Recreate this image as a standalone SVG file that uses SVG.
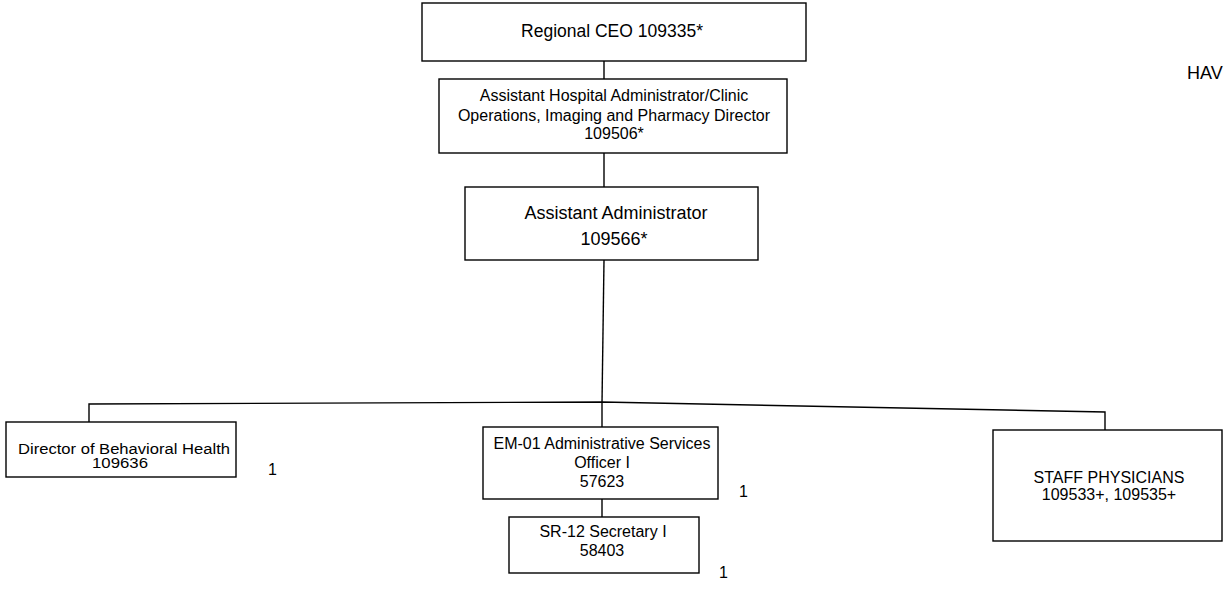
<svg xmlns="http://www.w3.org/2000/svg" width="1226" height="589" viewBox="0 0 1226 589">
<style>
.box{fill:#fff;stroke:#000;stroke-width:1.4}
.ln{fill:none;stroke:#000;stroke-width:1.4}
text{font-family:"Liberation Sans",Arial,sans-serif;fill:#000;text-anchor:middle}
.t16{font-size:16px}
.num{font-size:16px;text-anchor:start}
</style>
<rect width="1226" height="589" fill="#fff"/>
<g id="connectors">
<line class="ln" x1="604" y1="61" x2="604" y2="79"/>
<line class="ln" x1="604" y1="153" x2="604" y2="187"/>
<line class="ln" x1="604" y1="260" x2="602" y2="403"/>
<polyline class="ln" points="89,422 89,404 602,402 1105,412 1105,430"/>
<line class="ln" x1="602" y1="402" x2="602" y2="427"/>
<line class="ln" x1="602" y1="499" x2="602" y2="517"/>
</g>
<g id="ceo">
<rect class="box" x="422" y="3" width="384" height="58"/>
<text x="612" y="37" style="font-size:17.5px">Regional CEO 109335*</text>
</g>
<g id="asst-hosp-admin">
<rect class="box" x="439" y="79" width="348" height="74"/>
<text class="t16" x="614" y="101">Assistant Hospital Administrator/Clinic</text>
<text class="t16" x="614" y="121">Operations, Imaging and Pharmacy Director</text>
<text class="t16" x="614" y="139">109506*</text>
</g>
<g id="asst-admin">
<rect class="box" x="465" y="187" width="293" height="73"/>
<text x="616" y="219" style="font-size:18px">Assistant Administrator</text>
<text x="614" y="245" style="font-size:18px">109566*</text>
</g>
<g id="dir-behavioral">
<rect class="box" x="6" y="422" width="230" height="55"/>
<text x="124" y="454" style="font-size:14px" textLength="212" lengthAdjust="spacingAndGlyphs">Director of Behavioral Health</text>
<text x="120" y="468" style="font-size:14px" textLength="56" lengthAdjust="spacingAndGlyphs">109636</text>
<text class="num" x="268" y="475">1</text>
</g>
<g id="em01">
<rect class="box" x="483" y="427" width="235" height="72"/>
<text class="t16" x="602" y="449">EM-01 Administrative Services</text>
<text class="t16" x="602" y="468">Officer I</text>
<text class="t16" x="602" y="487">57623</text>
<text class="num" x="739" y="497">1</text>
</g>
<g id="sr12">
<rect class="box" x="509" y="517" width="190" height="56"/>
<text class="t16" x="603" y="537">SR-12 Secretary I</text>
<text class="t16" x="602" y="556">58403</text>
<text class="num" x="719" y="578">1</text>
</g>
<g id="staff">
<rect class="box" x="993" y="430" width="229" height="111"/>
<text class="t16" x="1109" y="483">STAFF PHYSICIANS</text>
<text class="t16" x="1109" y="500">109533+,  109535+</text>
</g>
<text x="1187" y="79" style="font-size:18px;text-anchor:start">HAV</text>
</svg>
